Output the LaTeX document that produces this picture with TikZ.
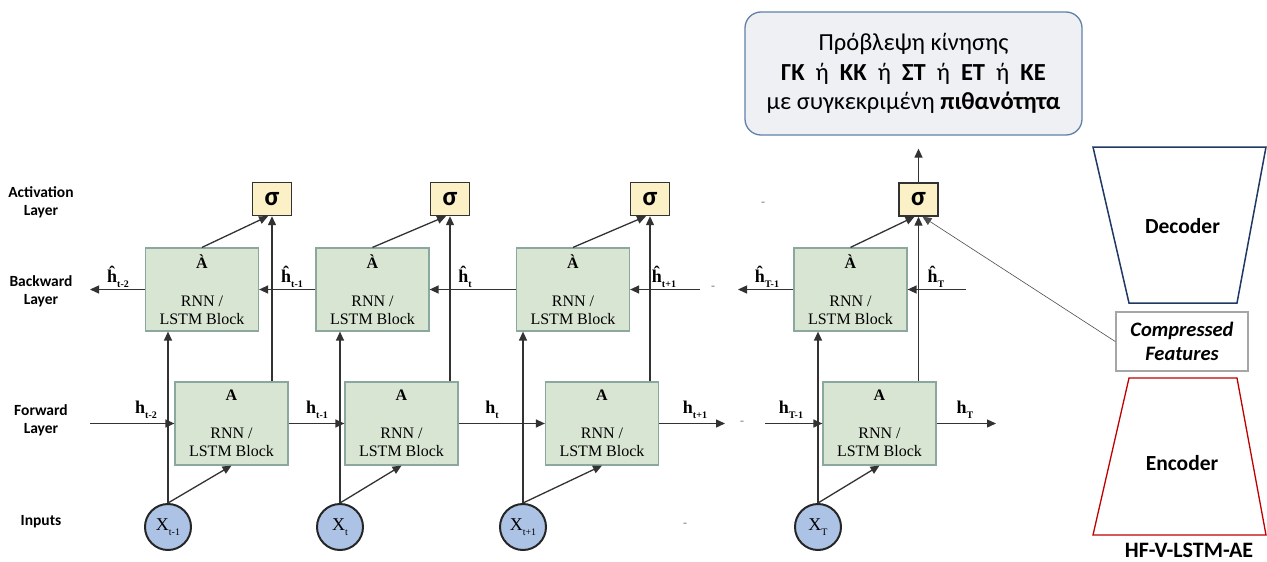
\documentclass[tikz,border=0pt]{standalone}
\usepackage{fontspec}
\setmainfont{Liberation Serif}
\newfontfamily\lblfont{Carlito}
\usetikzlibrary{arrows.meta}

\definecolor{blockfill}{RGB}{217,229,211}
\definecolor{blockdraw}{RGB}{140,168,158}
\definecolor{sigfill}{RGB}{252,240,198}
\definecolor{infill}{RGB}{172,195,230}
\definecolor{predfill}{RGB}{238,240,243}
\definecolor{preddraw}{RGB}{96,128,168}
\definecolor{decdraw}{RGB}{32,56,100}
\definecolor{encdraw}{RGB}{192,0,0}
\definecolor{linegray}{RGB}{50,50,50}

\newcommand{\sbs}[1]{\raisebox{-0.55ex}{\fontsize{10}{10}\selectfont #1}}

\begin{document}
\begin{tikzpicture}
[
    x = 1pt, y = -1pt,
    every node/.style = {inner sep = 0pt},
    block/.style = {draw = blockdraw, fill = blockfill, line width = 1.2pt,
        minimum width = 113pt, minimum height = 83pt, align = center,
        font = \fontsize{16}{18}\selectfont},
    sig/.style = {draw = linegray, fill = sigfill, line width = 1.4pt,
        minimum width = 39pt, minimum height = 33pt,
        font = \lblfont\bfseries\fontsize{27}{27}\selectfont},
    input/.style = {circle, draw = black!85, fill = infill, line width = 2pt,
        minimum size = 46pt, font = \fontsize{18}{18}\selectfont},
    layer/.style = {align = center, font = \lblfont\bfseries\fontsize{15.5}{18}\selectfont},
    hlab/.style = {font = \bfseries\fontsize{18}{18}\selectfont},
    gap/.style = {font = \fontsize{12}{12}\selectfont, text = black!55},
    wire/.style = {draw = linegray, line width = 1.3pt},
    arrow/.style = {wire, -{Triangle[length = 9pt, width = 8pt]}},
    feat/.style = {draw = black!70, line width = 0.6pt, -{Triangle[length = 9pt, width = 8pt]}},
    pred/.style = {draw = preddraw, fill = predfill, line width = 1.3pt, rounded corners = 16pt,
        minimum width = 337pt, minimum height = 123pt, align = center,
        font = \lblfont\fontsize{24.5}{29.5}\selectfont},
    cfbox/.style = {draw = black!35, line width = 1.5pt, minimum width = 132pt, minimum height = 59pt,
        align = center, font = \lblfont\bfseries\itshape\fontsize{20.5}{24}\selectfont},
    aelab/.style = {font = \lblfont\bfseries\fontsize{21.5}{21.5}\selectfont}
]
\useasboundingbox (0,0) rectangle (1267,562);

% row titles
\node[layer] (lact) at (41,202) {Activation\\Layer};
\node[layer] (lbwd) at (41,291) {Backward\\Layer};
\node[layer] (lfwd) at (41,420) {Forward\\Layer};
\node[layer] (linp) at (41,522) {Inputs};

% sigmoid outputs
\node[sig] (s1) at (272,199) {σ};
\node[sig] (s2) at (450,199) {σ};
\node[sig] (s3) at (650,199) {σ};
\node[sig] (s4) at (918.5,199.5) {σ};

% backward layer
\node[block] (b1) at (202,289.5) {\textbf{\`A}\\[20pt]RNN /\\LSTM Block};
\node[block] (b2) at (372.5,289.5) {\textbf{\`A}\\[20pt]RNN /\\LSTM Block};
\node[block] (b3) at (573,289.5) {\textbf{\`A}\\[20pt]RNN /\\LSTM Block};
\node[block] (b4) at (850.5,289.5) {\textbf{\`A}\\[20pt]RNN /\\LSTM Block};

% forward layer
\node[block] (f1) at (231.5,423.5) {\textbf{A}\\[20pt]RNN /\\LSTM Block};
\node[block] (f2) at (401.5,423.5) {\textbf{A}\\[20pt]RNN /\\LSTM Block};
\node[block] (f3) at (602,423.5) {\textbf{A}\\[20pt]RNN /\\LSTM Block};
\node[block] (f4) at (879.5,423.5) {\textbf{A}\\[20pt]RNN /\\LSTM Block};

% inputs
\node[input] (x1) at (168,527) {X\sbs{t-1}};
\node[input] (x2) at (340,527) {X\sbs{t}};
\node[input] (x3) at (523,527) {X\sbs{t+1}};
\node[input] (x4) at (818,527) {X\sbs{T}};

% open ends of the chains
\coordinate (bl) at (90,289.5);
\coordinate (b3in) at (700,289.5);
\coordinate (b4out) at (738,289.5);
\coordinate (b4in) at (966,289.5);
\coordinate (fl) at (90,423.5);
\coordinate (f3out) at (725,423.5);
\coordinate (f4in) at (765,423.5);
\coordinate (fr) at (996,423.5);

\node[gap] (g1) at (763,204) {-};
\node[gap] (g2) at (713,288) {-};
\node[gap] (g3) at (742,423) {-};
\node[gap] (g4) at (685,525) {-};

% hidden state labels
\node[hlab] (hb1) at (118,277) {\^{h}\sbs{t-2}};
\node[hlab] (hb2) at (292,277) {\^{h}\sbs{t-1}};
\node[hlab] (hb3) at (465,277) {\^{h}\sbs{t}};
\node[hlab] (hb4) at (664,277) {\^{h}\sbs{t+1}};
\node[hlab] (hb5) at (767,277) {\^{h}\sbs{T-1}};
\node[hlab] (hb6) at (936,277) {\^{h}\sbs{T}};
\node[hlab] (hf1) at (146,410) {h\sbs{t-2}};
\node[hlab] (hf2) at (317,410) {h\sbs{t-1}};
\node[hlab] (hf3) at (492,410) {h\sbs{t}};
\node[hlab] (hf4) at (695,410) {h\sbs{t+1}};
\node[hlab] (hf5) at (791,410) {h\sbs{T-1}};
\node[hlab] (hf6) at (965,410) {h\sbs{T}};

% forward chain
\draw[arrow] (fl) -- (f1.west);
\draw[arrow] (f1.east) -- (f2.west);
\draw[arrow] (f2.east) -- (f3.west);
\draw[arrow] (f3.east) -- (f3out);
\draw[arrow] (f4in) -- (f4.west);
\draw[arrow] (f4.east) -- (fr);

% backward chain
\draw[arrow] (b1.west) -- (bl);
\draw[arrow] (b2.west) -- (b1.east);
\draw[arrow] (b3.west) -- (b2.east);
\draw[arrow] (b3in) -- (b3.east);
\draw[arrow] (b4.west) -- (b4out);
\draw[arrow] (b4in) -- (b4.east);

% inputs into both layers
\draw[arrow] (x1.north) -- (x1.north |- b1.south);
\draw[arrow] (x2.north) -- (x2.north |- b2.south);
\draw[arrow] (x3.north) -- (x3.north |- b3.south);
\draw[arrow] (x4.north) -- (x4.north |- b4.south);
\draw[arrow] (x1.north) -- (f1.south);
\draw[arrow] (x2.north) -- (f2.south);
\draw[arrow] (x3.north) -- (f3.south);
\draw[arrow] (x4.north) -- (f4.south);

% both layers into the sigmoid
\draw[arrow] (f1.north -| s1) -- (s1.south);
\draw[arrow] (f2.north -| s2) -- (s2.south);
\draw[arrow] (f3.north -| s3) -- (s3.south);
\draw[arrow] (f4.north -| s4) -- (s4.south);
\draw[arrow] (b1.north) -- ([xshift=-4pt]s1.south);
\draw[arrow] (b2.north) -- ([xshift=-4pt]s2.south);
\draw[arrow] (b3.north) -- ([xshift=-4pt]s3.south);
\draw[arrow] (b4.north) -- ([xshift=-4pt]s4.south);

% prediction
\node[pred] (pred) at (913.5,73.5) {Πρόβλεψη κίνησης\\
    \textbf{ΓΚ}\ \ ή\ \ \textbf{ΚΚ}\ \ ή\ \ \textbf{ΣΤ}\ \ ή\ \ \textbf{ΕΤ}\ \ ή\ \ \textbf{ΚΕ}\\
    με συγκεκριμένη \textbf{πιθανότητα}};
\draw[arrow] (s4.north) -- ([yshift=-13pt]s4.north |- pred.south);

% autoencoder
\draw[decdraw, line width = 1.5pt] (1093,147) -- (1266,147) -- (1237,303) -- (1129,303) -- cycle;
\draw[encdraw, line width = 1.3pt] (1129,378) -- (1237,378) -- (1266,535) -- (1093,535) -- cycle;
\node[aelab] (dec) at (1182.5,226) {Decoder};
\node[aelab] (enc) at (1182,463) {Encoder};
\node[cfbox] (cf) at (1182,341.5) {Compressed\\Features};
\node[aelab, font = \lblfont\bfseries\fontsize{22}{22}\selectfont] (ae) at (1189,550) {HF-V-LSTM-AE};
\draw[feat] (cf.west) -- ([xshift=4pt]s4.south);
\end{tikzpicture}
\end{document}
